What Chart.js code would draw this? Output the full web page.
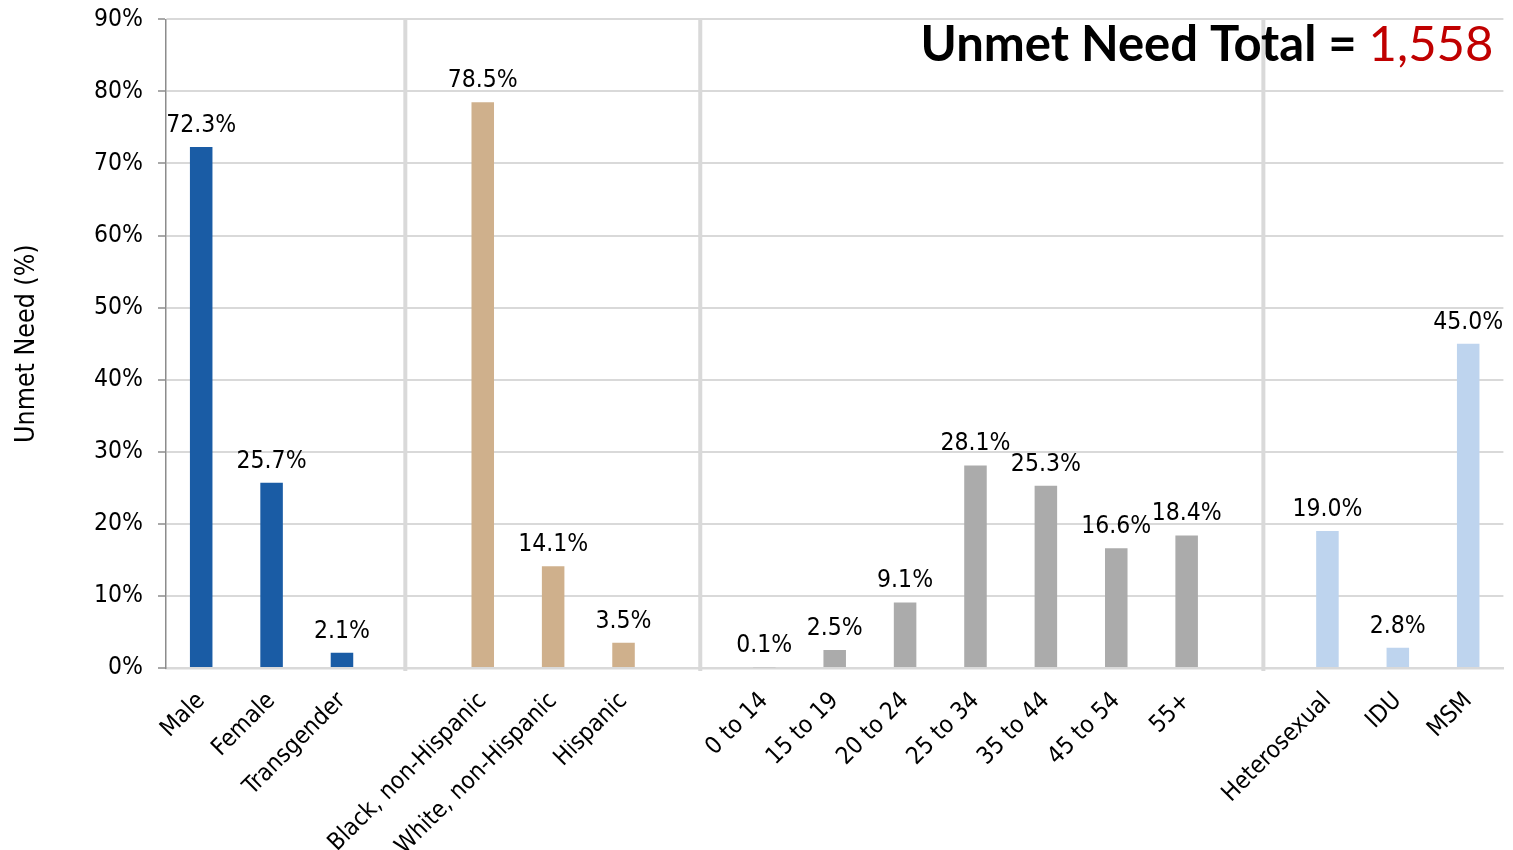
<!DOCTYPE html>
<html>
<head>
<meta charset="utf-8">
<title>Unmet Need</title>
<script src="https://cdn.jsdelivr.net/npm/chart.js@4.4.1/dist/chart.umd.min.js"></script>
<style>
  html, body { margin: 0; padding: 0; background: #fff; }
  #wrap { width: 1513px; height: 850px; position: relative; }
</style>
</head>
<body>
<div id="wrap"><canvas id="unmetChart"></canvas></div>
<script>
// Unmet need by group, percent of total
const sexLabels = ['Male', 'Female', 'Transgender'];
const sexValues = [72.3, 25.7, 2.1];
const raceLabels = ['Black, non-Hispanic', 'White, non-Hispanic', 'Hispanic'];
const raceValues = [78.5, 14.1, 3.5];
const ageLabels = ['0 to 14', '15 to 19', '20 to 24', '25 to 34', '35 to 44', '45 to 54', '55+'];
const ageValues = [0.1, 2.5, 9.1, 28.1, 25.3, 16.6, 18.4];
const riskLabels = ['Heterosexual', 'IDU', 'MSM'];
const riskValues = [19.0, 2.8, 45.0];
const yTicks = [0, 10, 20, 30, 40, 50, 60, 70, 80, 90];
const unmetTotal = '1,558';

const groupColors = ['#1a5ca5', '#cfb08c', '#ababab', '#bed4ee'];
const dividerShift = [-0.1, 0.09, 0.09];
const FONT = '"DejaVu Sans Condensed", "DejaVu Sans", sans-serif';

// one category axis, with an empty slot between the groups
const groups = [[sexLabels, sexValues], [raceLabels, raceValues], [ageLabels, ageValues], [riskLabels, riskValues]];
const categories = [];
const values = [];
const barColors = [];
const gapIndex = [];
groups.forEach(([labels, vals], g) => {
  if (g > 0) {
    gapIndex.push(categories.length);
    categories.push('');
    values.push(null);
    barColors.push('rgba(0,0,0,0)');
  }
  labels.forEach((l, i) => {
    categories.push(l);
    values.push(vals[i]);
    barColors.push(groupColors[g]);
  });
});

// thick grey lines between groups
const dividers = {
  id: 'dividers',
  beforeDatasetsDraw(chart) {
    const ctx = chart.ctx;
    const area = chart.chartArea;
    const xs = chart.scales.x;
    ctx.save();
    ctx.strokeStyle = '#d9d9d9';
    ctx.lineWidth = 4;
    gapIndex.forEach((gi, k) => {
      const px = xs.getPixelForValue(gi + dividerShift[k]);
      ctx.beginPath();
      ctx.moveTo(px, area.top - 1);
      ctx.lineTo(px, area.bottom + 3);
      ctx.stroke();
    });
    ctx.restore();
  }
};

// value on top of every bar
const valueLabels = {
  id: 'valueLabels',
  afterDatasetsDraw(chart) {
    const ctx = chart.ctx;
    const meta = chart.getDatasetMeta(0);
    ctx.save();
    ctx.font = '24.5px ' + FONT;
    ctx.fillStyle = '#000';
    ctx.textAlign = 'center';
    ctx.textBaseline = 'alphabetic';
    meta.data.forEach((bar, i) => {
      const v = values[i];
      if (v == null) return;
      ctx.fillText(v.toFixed(1) + '%', bar.x, bar.y - 15);
    });
    ctx.restore();
  }
};

// "Unmet Need Total = 1,558" top right
const totalText = {
  id: 'totalText',
  afterDraw(chart) {
    const ctx = chart.ctx;
    const area = chart.chartArea;
    const right = area.right - 10;
    const base = area.top + 42;
    const bold = 'bold 49px Lato';
    const normal = '49px Lato';
    ctx.save();
    ctx.textAlign = 'left';
    ctx.textBaseline = 'alphabetic';
    ctx.font = normal;
    const wNum = ctx.measureText(unmetTotal).width;
    ctx.font = bold;
    const wEq = ctx.measureText(' = ').width;
    const wLab = ctx.measureText('Unmet Need Total').width;
    let x = right - wNum - wEq - wLab;
    ctx.fillStyle = '#000';
    ctx.fillText('Unmet Need Total', x, base);
    x += wLab;
    ctx.fillText(' = ', x, base);
    x += wEq;
    ctx.font = normal;
    ctx.fillStyle = '#c00000';
    ctx.fillText(unmetTotal, x, base);
    ctx.restore();
  }
};

const ctx = document.getElementById('unmetChart').getContext('2d');
new Chart(ctx, {
  type: 'bar',
  data: {
    labels: categories,
    datasets: [{
      data: values,
      backgroundColor: barColors,
      barPercentage: 0.32,
      categoryPercentage: 1.0
    }]
  },
  options: {
    responsive: true,
    maintainAspectRatio: false,
    animation: false,
    layout: { padding: { left: 11, right: 9.6, top: 19.3, bottom: 0 } },
    plugins: {
      legend: { display: false },
      tooltip: { enabled: false }
    },
    scales: {
      x: {
        grid: { display: false },
        border: { color: '#d9d9d9', width: 2.5 },
        ticks: {
          autoSkip: false,
          maxRotation: 45,
          minRotation: 45,
          color: '#000',
          padding: 11,
          font: { family: FONT, size: 24 }
        },
        afterFit: s => { s.height = 182; }
      },
      y: {
        min: 0,
        max: 90,
        afterBuildTicks: s => { s.ticks = yTicks.map(v => ({ value: v })); },
        ticks: {
          color: '#000',
          padding: 15,
          font: { family: FONT, size: 24.5 },
          callback: v => v + '%'
        },
        grid: { color: '#d9d9d9', lineWidth: 2, tickColor: '#8c8c8c', tickLength: 8, tickWidth: 1.5 },
        border: { color: '#8c8c8c', width: 1.5 },
        title: {
          display: true,
          text: 'Unmet Need (%)',
          color: '#000',
          padding: { top: 0, bottom: 0 },
          font: { family: FONT, size: 26.5 }
        },
        afterFit: s => {
          s.width = 155;
          s.paddingTop = 0;
          s.paddingBottom = 0;
        }
      }
    }
  },
  plugins: [dividers, valueLabels, totalText]
});
</script>
</body>
</html>
